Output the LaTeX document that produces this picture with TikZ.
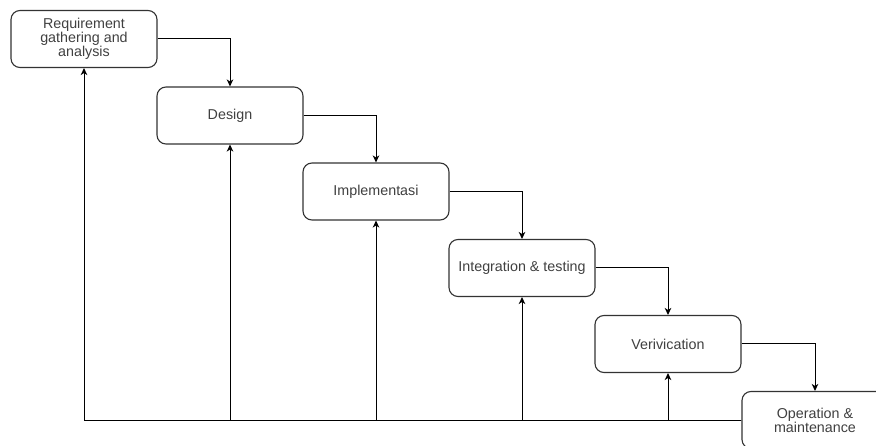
\documentclass[tikz,border=0pt]{standalone}
\usepackage{fontspec}
\setmainfont{Liberation Sans}
\usetikzlibrary{arrows.meta,positioning}
\begin{document}
\begin{tikzpicture}[x=1pt,y=-1pt,
  phase/.style={draw=black!80, line width=1.1pt, rounded corners=9pt, minimum width=146pt, minimum height=57pt, inner sep=2pt, align=center, text=black!75, font=\fontsize{14.3}{14}\selectfont, fill=white},
  flow/.style={draw=black, line width=1pt, -{Stealth[length=7pt,width=6.5pt,inset=2pt]}}]
\clip (0,0) rectangle (876,446);
\fill[white] (0,0) rectangle (876,446);
\node[phase] (req) at (84,39) {Requirement\\gathering and\\analysis};
\node[phase] (des) at (230,115.5) {Design};
\node[phase] (imp) at (376,191.5) {Implementasi};
\node[phase] (int) at (522,268) {Integration \& testing};
\node[phase] (ver) at (668,344) {Verivication};
\node[phase] (op) at (815,420) {Operation \&\\maintenance};
\draw[flow] (req.east) -| (des.north);
\draw[flow] (des.east) -| (imp.north);
\draw[flow] (imp.east) -| (int.north);
\draw[flow] (int.east) -| (ver.north);
\draw[flow] (ver.east) -| (op.north);
\draw[flow] (op.west) -| (ver.south);
\draw[flow] (op.west) -| (int.south);
\draw[flow] (op.west) -| (imp.south);
\draw[flow] (op.west) -| (des.south);
\draw[flow] (op.west) -| (req.south);
\end{tikzpicture}
\end{document}
